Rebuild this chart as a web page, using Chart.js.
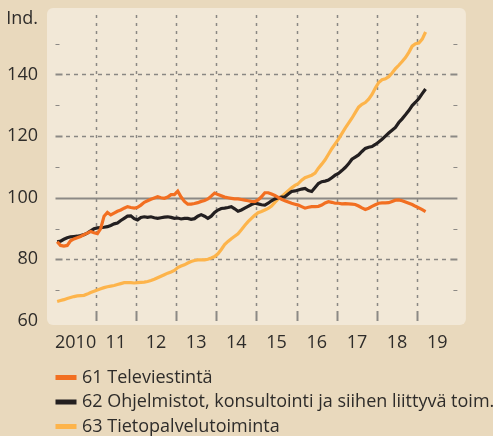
<!DOCTYPE html>
<html>
<head>
<meta charset="utf-8">
<script src="https://cdn.jsdelivr.net/npm/chart.js@4.4.1/dist/chart.umd.min.js"></script>
<style>
  html, body { margin: 0; padding: 0; background: #e9d9bd; }
  #wrap { width: 493px; height: 436px; }
</style>
</head>
<body>
<div id="wrap"><canvas id="c" width="493" height="436"></canvas></div>
<script>
// Monthly index series, January 2010 onwards
const startYear = 2010;
const yearLabels = ['2010', '11', '12', '13', '14', '15', '16', '17', '18', '19'];
const seriesNames = [
  '61 Televiestintä',
  '62 Ohjelmistot, konsultointi ja siihen liittyvä toim.',
  '63 Tietopalvelutoiminta'
];

const televiestinta = [
  85.7, 84.5, 84.3, 84.5, 86.0, 86.6, 87.0, 87.4, 88.0, 88.5, 89.0, 88.6,
  88.3, 90.0, 94.0, 95.2, 94.4, 95.0, 95.6, 96.0, 96.6, 97.1, 96.8, 96.6,
  96.9, 97.6, 98.5, 99.0, 99.5, 99.9, 100.3, 100.0, 99.8, 100.2, 101.0, 101.0,
  102.1, 100.2, 98.8, 97.9, 97.9, 98.1, 98.4, 98.8, 99.1, 99.6, 100.5, 101.5,
  101.0, 100.6, 100.2, 100.0, 99.8, 99.6, 99.6, 99.4, 99.2, 99.0, 98.8, 98.7,
  99.3, 100.3, 101.6, 101.6, 101.2, 100.7, 100.1, 99.5, 99.0, 98.6, 98.2, 97.9,
  97.6, 97.1, 96.6, 96.9, 97.1, 97.1, 97.2, 97.6, 98.3, 98.7, 98.5, 98.2,
  98.2, 98.0, 98.1, 98.0, 97.9, 97.8, 97.3, 96.7, 96.2, 96.6, 97.2, 97.7,
  98.2, 98.3, 98.3, 98.4, 98.8, 99.2, 99.3, 99.0, 98.6, 98.2, 97.8, 97.2,
  96.7, 96.1, 95.5
];

const ohjelmistot = [
  85.7, 85.9, 86.5, 87.0, 87.3, 87.4, 87.5, 87.7, 88.0, 88.5, 89.2, 89.9,
  90.2, 90.3, 90.4, 90.6, 91.0, 91.5, 91.8, 92.6, 93.3, 94.0, 94.1, 93.2,
  92.8, 93.6, 93.8, 93.6, 93.8, 93.5, 93.3, 93.5, 93.7, 93.8, 93.6, 93.3,
  93.4, 93.1, 93.3, 93.3, 93.0, 93.2, 94.0, 94.5, 94.0, 93.3, 94.0, 95.2,
  96.0, 96.5, 96.6, 96.8, 97.1, 96.4, 95.6, 96.0, 96.6, 97.2, 97.8, 98.2,
  98.0, 97.7, 97.6, 98.2, 99.0, 99.6, 100.0, 100.2, 100.3, 101.2, 102.0, 102.2,
  102.5, 102.8, 103.0, 102.3, 102.0, 103.3, 104.6, 105.2, 105.4, 105.7, 106.5, 107.3,
  107.9, 108.8, 109.8, 111.0, 112.5, 113.2, 113.9, 115.0, 116.0, 116.4, 116.6, 117.3,
  118.1, 119.0, 120.0, 121.0, 121.9, 122.8, 124.4, 125.6, 126.9, 128.3, 129.9, 131.0,
  132.2, 133.8, 135.3
];

const tietopalvelu = [
  66.3, 66.6, 66.9, 67.3, 67.6, 67.9, 68.1, 68.2, 68.3, 68.7, 69.2, 69.6,
  70.0, 70.4, 70.8, 71.1, 71.3, 71.5, 71.8, 72.1, 72.4, 72.4, 72.4, 72.3,
  72.4, 72.5, 72.6, 72.8, 73.1, 73.5, 74.0, 74.5, 75.0, 75.5, 75.9, 76.4,
  77.3, 77.8, 78.2, 78.8, 79.3, 79.6, 79.8, 79.8, 79.8, 80.0, 80.4, 80.9,
  81.8, 83.2, 84.8, 85.8, 86.7, 87.5, 88.3, 89.6, 91.0, 92.2, 93.3, 94.3,
  95.1, 95.5, 96.0, 96.5, 97.3, 98.5, 99.6, 100.3, 101.3, 102.3, 103.2, 104.0,
  104.6, 105.7, 106.5, 106.9, 107.3, 108.0, 109.6, 110.9, 112.3, 114.1, 115.9, 117.5,
  119.0, 120.8, 122.6, 124.2, 125.8, 127.6, 129.4, 130.3, 130.9, 132.0, 133.5, 135.6,
  137.4, 138.3, 138.6, 139.3, 140.5, 141.9, 143.0, 144.2, 145.5, 147.2, 149.2, 150.0,
  150.2, 151.5, 153.8
];

const seriesColors = ['#f26f21', '#231f20', '#fdb44b'];
const FONT = "'Open Sans', 'Noto Sans', sans-serif";
const TEXT = '#2e2c2a';
const GRID = '#8c8985';
const DOTS = '#8a8783';

// each month sits in the middle of its slot on the time axis
const toPoints = (values) => values.map((v, i) => ({ x: startYear + (i + 0.5) / 12, y: v }));

function panelPath(ctx, x, y, w, h, r) {
  ctx.beginPath();
  ctx.moveTo(x + r, y);
  ctx.lineTo(x + w - r, y);
  ctx.arcTo(x + w, y, x + w, y + r, r);
  ctx.lineTo(x + w, y + h - r);
  ctx.arcTo(x + w, y + h, x + w - r, y + h, r);
  ctx.lineTo(x + r, y + h);
  ctx.arcTo(x, y + h, x, y + h - r, r);
  ctx.lineTo(x, y + r);
  ctx.arcTo(x, y, x + r, y, r);
  ctx.closePath();
}

// dotted rules are laid down as small filled dashes
function dashesV(ctx, x, y0, y1, dash, gap) {
  for (let yy = y0; yy < y1; yy += dash + gap) {
    ctx.fillRect(x - 0.25, yy, 1.5, Math.min(dash, y1 - yy));
  }
}
function dashesH(ctx, y, x0, x1, dash, gap) {
  for (let xx = x0; xx < x1; xx += dash + gap) {
    ctx.fillRect(xx, y - 0.25, Math.min(dash, x1 - xx), 1.5);
  }
}

const panelAndGrid = {
  id: 'panelAndGrid',
  beforeDatasetsDraw(chart) {
    const { ctx, chartArea: a, scales: { x, y } } = chart;
    ctx.save();
    ctx.fillStyle = '#f2e8d7';
    panelPath(ctx, a.left - 8.5, a.top - 5, a.right - a.left + 17, a.bottom - a.top + 9, 6);
    ctx.fill();

    // vertical year boundaries
    for (let yr = startYear + 1; yr < startYear + yearLabels.length; yr++) {
      const px = Math.round(x.getPixelForValue(yr));
      ctx.fillStyle = DOTS;
      dashesV(ctx, px, Math.round(a.top) + 2, Math.round(a.bottom) - 12, 3, 5);
      ctx.fillStyle = GRID;
      ctx.fillRect(px - 0.5, Math.round(a.bottom) - 10, 2, 10);
    }
    // horizontal levels
    [80, 100, 120, 140].forEach(v => {
      const py = Math.round(y.getPixelForValue(v));
      ctx.fillStyle = GRID;
      if (v === 100) {
        ctx.fillRect(a.left, py - 0.5, a.right - a.left, 2);
        return;
      }
      ctx.fillRect(a.left, py - 0.5, 7, 2);
      ctx.fillRect(a.right - 7, py - 0.5, 7, 2);
      ctx.fillStyle = DOTS;
      dashesH(ctx, py, Math.round(a.left) + 10, Math.round(a.right) - 9, 4, 4);
    });
    // minor ticks
    ctx.fillStyle = GRID;
    [70, 90, 110, 130, 150].forEach(v => {
      const py = Math.round(y.getPixelForValue(v));
      ctx.fillRect(a.left, py, 4, 1);
      ctx.fillRect(a.right - 4, py, 4, 1);
    });
    ctx.restore();
  },
  afterDraw(chart) {
    const { ctx, chartArea: a } = chart;
    ctx.save();
    // unit label above the value axis
    ctx.fillStyle = TEXT;
    ctx.font = '18px ' + FONT;
    ctx.textAlign = 'right';
    ctx.textBaseline = 'middle';
    ctx.fillText('Ind.', 38, 19);

    ctx.textAlign = 'left';
    chart.data.datasets.forEach((ds, i) => {
      const rowY = 377.5 + i * 24.5;
      ctx.fillStyle = ds.borderColor;
      ctx.fillRect(a.left, rowY - 2.5, 21, 5);
      ctx.fillStyle = TEXT;
      ctx.fillText(ds.label, 82, rowY);
    });
    ctx.restore();
  }
};

const seriesValues = [televiestinta, ohjelmistot, tietopalvelu];

new Chart(document.getElementById('c'), {
  type: 'line',
  data: {
    datasets: seriesValues.map((vals, i) => ({
      label: seriesNames[i],
      data: toPoints(vals),
      borderColor: seriesColors[i],
      borderWidth: 3.2,
      pointRadius: 0,
      tension: 0,
      fill: false,
      order: i
    }))
  },
  options: {
    responsive: false,
    animation: false,
    devicePixelRatio: 1,
    layout: { padding: { left: 0, right: 35.6, top: 12.9, bottom: 75.1 } },
    plugins: { legend: { display: false }, tooltip: { enabled: false } },
    scales: {
      x: {
        type: 'linear',
        min: startYear,
        max: startYear + yearLabels.length,
        grid: { display: false, drawTicks: false },
        border: { display: false },
        afterBuildTicks: (scale) => {
          scale.ticks = yearLabels.map((_, i) => ({ value: startYear + i + 0.5 }));
        },
        afterFit: (scale) => {
          scale.height = 40;
          scale.paddingLeft = 0;
          scale.paddingRight = 0;
        },
        ticks: {
          autoSkip: false,
          maxRotation: 0,
          padding: 11,
          color: TEXT,
          font: { family: FONT, size: 18 },
          callback: (v) => yearLabels[Math.floor(v) - startYear]
        }
      },
      y: {
        min: 60,
        max: 160,
        grid: { display: false, drawTicks: false },
        border: { display: false },
        afterFit: (scale) => {
          scale.width = 55.5;
          scale.paddingTop = 0;
          scale.paddingBottom = 0;
        },
        ticks: {
          stepSize: 20,
          padding: 17.5,
          color: TEXT,
          font: { family: FONT, size: 18 },
          callback: (v) => (v >= 160 ? '' : String(v))
        }
      }
    }
  },
  plugins: [panelAndGrid]
});
</script>
</body>
</html>
